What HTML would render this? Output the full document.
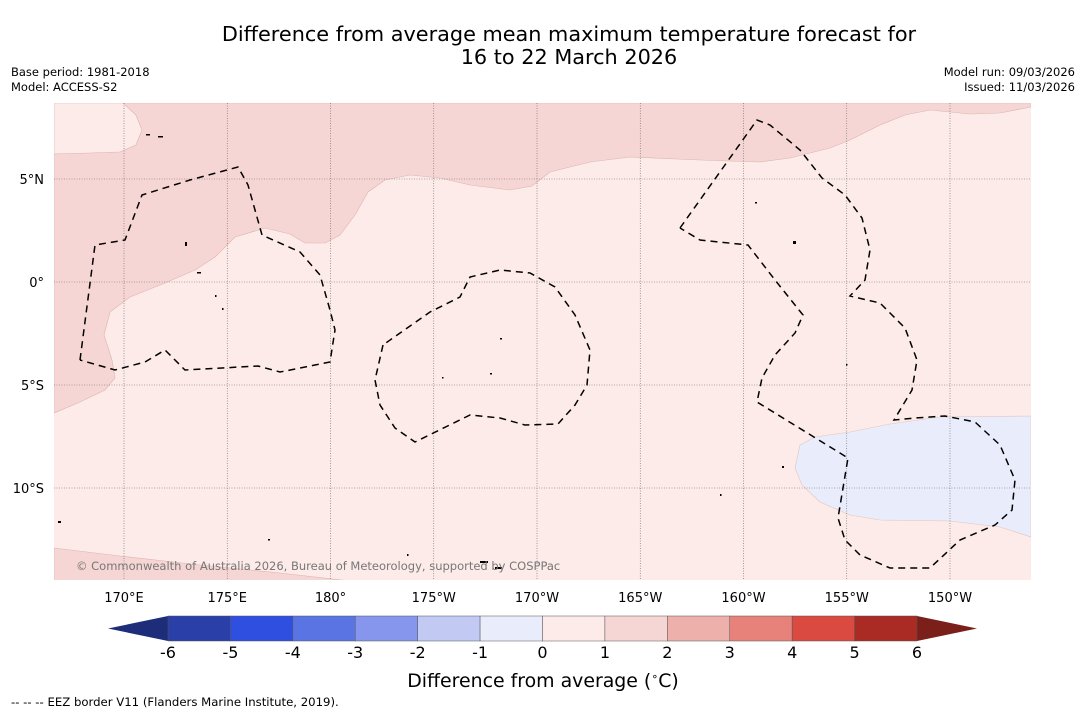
<!DOCTYPE html>
<html><head><meta charset="utf-8">
<style>
body{margin:0;background:#fff;}
svg{display:block;font-family:"DejaVu Sans","Liberation Sans",sans-serif;}
</style></head>
<body>
<svg id="chart" width="1085" height="713" viewBox="0 0 1085 713">
<text x="569" y="41" font-size="20.8" text-anchor="middle" fill="#000">Difference from average mean maximum temperature forecast for</text>
<text x="569" y="64" font-size="20.8" text-anchor="middle" fill="#000">16 to 22 March 2026</text>
<text x="11" y="76" font-size="11.5">Base period: 1981-2018</text>
<text x="11" y="91" font-size="11.5">Model: ACCESS-S2</text>
<text x="1075" y="76" font-size="11.5" text-anchor="end">Model run: 09/03/2026</text>
<text x="1075" y="91" font-size="11.5" text-anchor="end">Issued: 11/03/2026</text>

<g>
<clipPath id="mapclip"><rect x="54" y="103" width="977" height="477"/></clipPath>
<g clip-path="url(#mapclip)">
<rect x="54" y="103" width="977" height="477" fill="#fcebe8"/>
<path fill="#f6d6d4" stroke="#dcb4b0" stroke-width="0.6"
d="M54,103 L1031,103 L1031,107 L1000,113 L970,114 L930,110 L905,115 L880,125 L850,140 L830,148 L790,158 L760,162 L700,160 L630,157 L590,162 L550,172 L532,186 L510,190 L470,185 L440,178 L410,175 L385,180 L368,192 L355,215 L340,235 L325,243 L305,243 L290,234 L265,228 L235,237 L215,257 L195,270 L165,283 L130,297 L110,312 L104,335 L112,360 L115,378 L105,390 L80,402 L54,413 Z"/>
<path fill="#fcebe8" stroke="#dcb4b0" stroke-width="0.6"
d="M54,103 L123,103 L136,115 L142,130 L136,145 L120,152 L90,153 L54,154 Z"/>
<path fill="#f6d6d4" stroke="#dcb4b0" stroke-width="0.6"
d="M54,548 L120,556 L200,565 L280,573 L350,581 L54,581 Z"/>
<path fill="#e9ecfb" stroke="#e2c4c0" stroke-width="0.6"
d="M800,445 L815,437 L850,432 L890,424 L940,417 L1031,416 L1031,537 L1000,527 L950,521 L880,520 L850,515 L820,502 L802,485 L795,468 Z"/>
</g>
<g stroke="#666" stroke-width="0.6" stroke-dasharray="1,1.5" id="grid"></g>
<g fill="none" stroke="#000" stroke-width="1.5" stroke-dasharray="7,5">
<path d="M80,360 L95,245 L125,240 L142,195 L190,180 L238,167 L248,185 L262,235 L300,252 L320,275 L330,310 L335,330 L330,362 L280,372 L258,366 L185,370 L165,350 L145,362 L115,370 L80,360"/>
<path d="M383,345 L375,380 L380,405 L395,428 L415,442 L470,415 L500,418 L525,425 L558,424 L575,405 L587,385 L590,350 L575,315 L555,287 L530,273 L500,270 L470,277 L460,297 L430,312 L383,345"/>
<path d="M680,228 L757,120 L770,125 L800,150 L822,178 L845,195 L862,218 L870,250 L865,280 L850,296 L880,303 L905,328 L917,360 L912,390 L894,420 L915,418 L945,416 L975,422 L1000,445 L1015,480 L1012,510 L995,525 L960,540 L930,568 L890,568 L860,555 L845,540 L838,518 L848,458 L757,402 L762,378 L775,355 L795,333 L803,315 L775,280 L748,245 L700,240 L680,228"/>
</g>
<g fill="#000">
<rect x="146" y="134" width="4" height="1.5"/><rect x="158" y="136" width="5" height="1.5"/><rect x="185" y="242" width="2" height="4"/><rect x="197" y="272" width="4" height="1.5"/><rect x="215" y="295" width="1.5" height="2"/><rect x="222" y="308" width="1.5" height="2"/><rect x="500" y="338" width="2" height="1.5"/><rect x="490" y="373" width="2" height="1.5"/><rect x="755" y="202" width="2" height="1.5"/><rect x="793" y="241" width="3" height="3"/><rect x="782" y="466" width="2" height="2"/><rect x="720" y="494" width="1.5" height="2"/><rect x="58" y="521" width="3" height="2"/><rect x="480" y="561" width="8" height="2"/><rect x="495" y="567" width="7" height="2"/><rect x="268" y="539" width="2" height="1.5"/><rect x="407" y="554" width="1.5" height="2"/><rect x="442" y="377" width="1.5" height="1.5"/><rect x="846" y="364" width="1.5" height="1.5"/>
</g>
<text x="76" y="570" font-size="11.5" fill="#777">© Commonwealth of Australia 2026, Bureau of Meteorology, supported by COSPPac</text>
</g>
<g id="axisLabels" font-size="13" fill="#000"></g>
<g id="colorbar"></g>
<text x="543" y="687" font-size="18.9" text-anchor="middle">Difference from average (<tspan font-size="11" dy="-7">∘</tspan><tspan dy="7">C)</tspan></text>
<text x="11" y="706" font-size="11.7">--  --  -- EEZ border V11 (Flanders Marine Institute, 2019).</text>
</svg>
<script>
const lonTicks=[170,175,180,-175,-170,-165,-160,-155,-150];
const lonLabels=["170°E","175°E","180°","175°W","170°W","165°W","160°W","155°W","150°W"];
const latTicks=[5,0,-5,-10];
const latLabels=["5°N","0°","5°S","10°S"];
const cbLevels=[-6,-5,-4,-3,-2,-1,0,1,2,3,4,5,6];
const cbColors=["#2a3fa8","#2f4fe0","#5a74e4","#8596ec","#c2c9f3","#e9ecfb","#fcebe8","#f6d6d4","#eeb0aa","#e6827a","#db4a40","#aa2a24"];
const cbUnder="#1e2d7a", cbOver="#7a1f1a";

const NS="http://www.w3.org/2000/svg";
function xLon(l){const e=l<0?l+360:l;return 124+(e-170)*20.65;}
function yLat(l){return 282-l*20.6;}
function mk(t,a,p){const e=document.createElementNS(NS,t);for(const k in a)e.setAttribute(k,a[k]);p.appendChild(e);return e;}
const grid=document.getElementById('grid'),ax=document.getElementById('axisLabels');
lonTicks.forEach((l,i)=>{const x=xLon(l);
 const ln=mk('line',{x1:x,x2:x,y1:103,y2:580},grid);
 
 
 const t=mk('text',{x:x,y:602,'text-anchor':'middle'},ax);t.textContent=lonLabels[i];
 
 });
latTicks.forEach((l,i)=>{const y=yLat(l);
 const ln=mk('line',{x1:54,x2:1031,y1:y,y2:y},grid);
 
 
 const t=mk('text',{x:44,y:y+5,'text-anchor':'end'},ax);t.textContent=latLabels[i];
 
 });
const cb=document.getElementById('colorbar');
const cx0=168,cx1=917,cy0=616,cy1=641;
function xCb(v){return cx0+(v-cbLevels[0])/(cbLevels[cbLevels.length-1]-cbLevels[0])*(cx1-cx0);}
const under=mk('polygon',{points:`${cx0},${cy0} ${cx0},${cy1} 108,${(cy0+cy1)/2}`,fill:cbUnder},cb);


const over=mk('polygon',{points:`${cx1},${cy0} ${cx1},${cy1} 977,${(cy0+cy1)/2}`,fill:cbOver},cb);


cbColors.forEach((c,i)=>{const a=xCb(cbLevels[i]),b=xCb(cbLevels[i+1]);
 const r=mk('rect',{x:a,y:cy0,width:b-a,height:cy1-cy0,fill:c,stroke:'#555','stroke-width':0.5},cb);
 
 });
cbLevels.forEach(v=>{const t=mk('text',{x:xCb(v),y:658,'font-size':16,'text-anchor':'middle'},cb);t.textContent=String(v);
 
 });
</script>
</body></html>
